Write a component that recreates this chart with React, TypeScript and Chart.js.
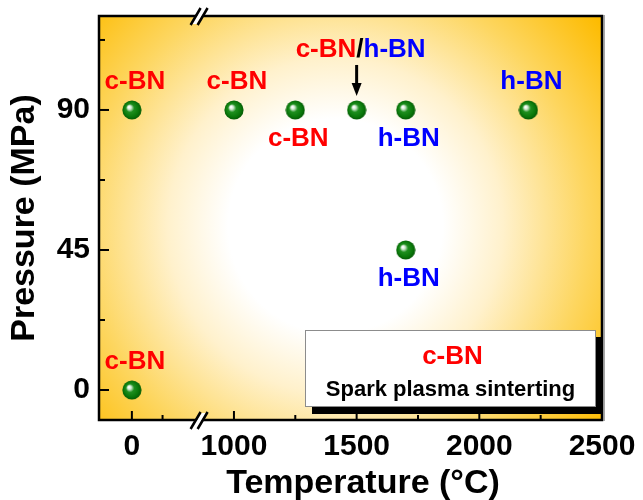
import React, { useEffect, useRef } from "react";
import { Chart, registerables } from "chart.js";

Chart.register(...registerables);

// ---- data ----
const temperatures = [0, 1000, 1250, 1500, 1700, 2200, 1700, 0];
const pressures = [90, 90, 90, 90, 90, 90, 45, 0];
const phaseLabels = ["c-BN", "c-BN", "c-BN", "c-BN/h-BN", "h-BN", "h-BN", "h-BN", "c-BN"];
const labelPlacement = ["above", "above", "below", "arrow", "below", "above", "below", "above"];
const xTickTemps = [0, 1000, 1500, 2000, 2500];
const xMinorTemps = [250, 1250, 1750, 2250];
const yTickValues = [0, 45, 90];
const yMinorValues = [22.5, 67.5, 112.5];
const legendTitle = "c-BN";
const legendSubtitle = "Spark plasma sinterting";
const xTitle = "Temperature (°C)";
const yTitle = "Pressure (MPa)";

// ---- broken temperature axis ----
const BREAK_AT = 1000;
const LOW_ORIGIN = 584; // axis position of 0 °C in the compressed low segment
const LOW_FACTOR = 0.5;
const BREAK_MARK = 860;
const X_MIN = 450;
const X_MAX = 2500;
const Y_MIN = -9.64;
const Y_MAX = 120.2;
const toAxis = (t: number) => (t < BREAK_AT ? LOW_ORIGIN + t * LOW_FACTOR : t);

const FONT = "'Liberation Sans', Arial, sans-serif";
const phaseColor = (s: string) => (s.startsWith("c") ? "#ff0000" : s.startsWith("h") ? "#0000ff" : "#000000");

function makeSphere(): HTMLCanvasElement {
  const c = document.createElement("canvas");
  c.width = 20;
  c.height = 20;
  const g = c.getContext("2d")!;
  const grad = g.createRadialGradient(7, 7, 0.5, 10, 10, 10);
  grad.addColorStop(0, "#ffffff");
  grad.addColorStop(0.15, "#cfe8cf");
  grad.addColorStop(0.38, "#1f8f1f");
  grad.addColorStop(0.75, "#0a780a");
  grad.addColorStop(1, "#045504");
  g.fillStyle = grad;
  g.beginPath();
  g.arc(10, 10, 9.6, 0, Math.PI * 2);
  g.fill();
  return c;
}

function drawPhaseText(ctx: CanvasRenderingContext2D, text: string, cx: number, cy: number, size: number) {
  ctx.font = `bold ${size}px ${FONT}`;
  ctx.textBaseline = "middle";
  ctx.textAlign = "left";
  const parts = text.split(/(\/)/).filter((p) => p.length > 0);
  const widths = parts.map((p) => ctx.measureText(p).width);
  const total = widths.reduce((a, b) => a + b, 0);
  let x = cx - total / 2;
  parts.forEach((p, i) => {
    ctx.fillStyle = phaseColor(p);
    ctx.fillText(p, x, cy);
    x += widths[i];
  });
}

const decorPlugin = {
  id: "decor",
  beforeDatasetsDraw(chart: any) {
    const { ctx, chartArea: a } = chart;
    const cx = a.left + (a.right - a.left) * 0.47;
    const cy = a.top + (a.bottom - a.top) * 0.52;
    const g = ctx.createRadialGradient(cx, cy, 0, cx, cy, 335);
    g.addColorStop(0, "#ffffff");
    g.addColorStop(0.32, "#ffffff");
    g.addColorStop(0.5, "#fff1cc");
    g.addColorStop(0.75, "#fdd660");
    g.addColorStop(1, "#fdbb00");
    ctx.save();
    ctx.fillStyle = g;
    ctx.fillRect(a.left, a.top, a.right - a.left, a.bottom - a.top);
    ctx.restore();
  },
  afterDatasetsDraw(chart: any) {
    const { ctx } = chart;
    const meta = chart.getDatasetMeta(0);
    ctx.save();
    meta.data.forEach((pt: any, i: number) => {
      const px = pt.x;
      const py = pt.y;
      const place = labelPlacement[i];
      if (place === "above") drawPhaseText(ctx, phaseLabels[i], px + 3, py - 28, 26);
      else if (place === "below") drawPhaseText(ctx, phaseLabels[i], px + 3, py + 29, 26);
      else {
        drawPhaseText(ctx, phaseLabels[i], px + 4, py - 60, 26);
        ctx.strokeStyle = "#000";
        ctx.fillStyle = "#000";
        ctx.lineWidth = 3;
        ctx.beginPath();
        ctx.moveTo(px, py - 45);
        ctx.lineTo(px, py - 24);
        ctx.stroke();
        ctx.beginPath();
        ctx.moveTo(px - 5, py - 27);
        ctx.lineTo(px + 5, py - 27);
        ctx.lineTo(px, py - 14);
        ctx.closePath();
        ctx.fill();
      }
    });
    ctx.restore();
  },
  afterDraw(chart: any) {
    const { ctx, chartArea: a } = chart;
    const xs = chart.scales.x;
    const ys = chart.scales.y;
    ctx.save();
    // ticks (inward)
    ctx.strokeStyle = "#000";
    ctx.lineWidth = 2;
    const xTick = (v: number, len: number) => {
      const p = xs.getPixelForValue(v);
      ctx.beginPath();
      ctx.moveTo(p, a.bottom);
      ctx.lineTo(p, a.bottom - len);
      ctx.stroke();
    };
    const yTick = (v: number, len: number) => {
      const p = ys.getPixelForValue(v);
      ctx.beginPath();
      ctx.moveTo(a.left, p);
      ctx.lineTo(a.left + len, p);
      ctx.stroke();
    };
    xTickTemps.forEach((t) => xTick(toAxis(t), 9));
    xMinorTemps.forEach((t) => xTick(toAxis(t), 5));
    yTickValues.forEach((v) => yTick(v, 10));
    yMinorValues.forEach((v) => yTick(v, 6));

    // frame
    ctx.lineWidth = 2.5;
    ctx.strokeStyle = "#000";
    ctx.strokeRect(a.left, a.top, a.right - a.left, a.bottom - a.top);
    ctx.strokeStyle = "#8a8a8a";
    ctx.lineWidth = 1.5;
    ctx.beginPath();
    ctx.moveTo(a.right + 2, a.top - 1);
    ctx.lineTo(a.right + 2, a.bottom + 1);
    ctx.stroke();

    // axis break marks
    const bx = xs.getPixelForValue(BREAK_MARK);
    [a.top, a.bottom].forEach((y) => {
      ctx.fillStyle = "#ffffff";
      ctx.beginPath();
      ctx.moveTo(bx - 8, y + 8);
      ctx.lineTo(bx + 2, y - 7);
      ctx.lineTo(bx + 7, y - 7);
      ctx.lineTo(bx - 3, y + 8);
      ctx.closePath();
      ctx.fill();
      ctx.strokeStyle = "#000";
      ctx.lineWidth = 2.5;
      ctx.beginPath();
      ctx.moveTo(bx - 9, y + 9);
      ctx.lineTo(bx + 1, y - 8);
      ctx.moveTo(bx - 2, y + 9);
      ctx.lineTo(bx + 8, y - 8);
      ctx.stroke();
    });

    // legend box
    const bw = 291;
    const bh = 77;
    const bR = a.right - 6;
    const bB = a.bottom - 13;
    const bL = bR - bw;
    const bT = bB - bh;
    ctx.fillStyle = "#000";
    ctx.fillRect(bL + 7, bT + 7, bw, bh);
    ctx.fillStyle = "#fff";
    ctx.fillRect(bL, bT, bw, bh);
    ctx.strokeStyle = "#8c8c8c";
    ctx.lineWidth = 1;
    ctx.strokeRect(bL + 0.5, bT + 0.5, bw - 1, bh - 1);
    drawPhaseText(ctx, legendTitle, bL + bw / 2 + 2, bT + 27, 26);
    ctx.font = `bold 22px ${FONT}`;
    ctx.fillStyle = "#000";
    ctx.textAlign = "center";
    ctx.textBaseline = "middle";
    ctx.fillText(legendSubtitle, bL + bw / 2, bT + 60);

    // axis titles
    ctx.font = `bold 34px ${FONT}`;
    ctx.fillStyle = "#000";
    ctx.textAlign = "center";
    ctx.textBaseline = "middle";
    ctx.fillText(xTitle, 363, 484);
    ctx.translate(25, (a.top + a.bottom) / 2);
    ctx.rotate(-Math.PI / 2);
    ctx.fillText(yTitle, 0, 0);
    ctx.restore();
  },
};

export default function App() {
  const ref = useRef<HTMLCanvasElement>(null);
  useEffect(() => {
    if (!ref.current) return;
    const sphere = makeSphere();
    const tickFont = { family: FONT, size: 30, weight: "bold" as const };
    const chart = new Chart(ref.current, {
      type: "scatter",
      data: {
        datasets: [
          {
            data: temperatures.map((t, i) => ({ x: toAxis(t), y: pressures[i] })),
            pointStyle: sphere as any,
            pointRadius: 10,
            pointHoverRadius: 10,
          },
        ],
      },
      options: {
        animation: false,
        responsive: false,
        events: [],
        layout: { padding: { top: 16, right: 41, left: 0, bottom: 0 } },
        plugins: { legend: { display: false }, tooltip: { enabled: false } },
        scales: {
          x: {
            type: "linear",
            min: X_MIN,
            max: X_MAX,
            grid: { display: false, drawTicks: false },
            border: { display: false },
            afterFit: (s: any) => {
              s.height = 80;
              s.paddingLeft = 0;
              s.paddingRight = 0;
            },
            afterBuildTicks: (s: any) => {
              s.ticks = xTickTemps.map((t) => ({ value: toAxis(t) }));
            },
            ticks: {
              autoSkip: false,
              maxRotation: 0,
              padding: 9,
              color: "#000",
              font: tickFont,
              callback: (_v: any, i: number) => String(xTickTemps[i]),
            },
          },
          y: {
            type: "linear",
            min: Y_MIN,
            max: Y_MAX,
            grid: { display: false, drawTicks: false },
            border: { display: false },
            afterFit: (s: any) => {
              s.width = 99;
              s.paddingTop = 0;
              s.paddingBottom = 0;
            },
            afterBuildTicks: (s: any) => {
              s.ticks = yTickValues.map((v) => ({ value: v }));
            },
            ticks: {
              autoSkip: false,
              padding: 9,
              color: "#000",
              font: tickFont,
              callback: (v: any) => String(v),
            },
          },
        },
      },
      plugins: [decorPlugin],
    });
    return () => chart.destroy();
  }, []);
  return (
    <div style={{ position: "absolute", left: 0, top: 0, width: 643, height: 500, background: "#fff" }}>
      <canvas ref={ref} width={643} height={500} style={{ display: "block" }} />
    </div>
  );
}
